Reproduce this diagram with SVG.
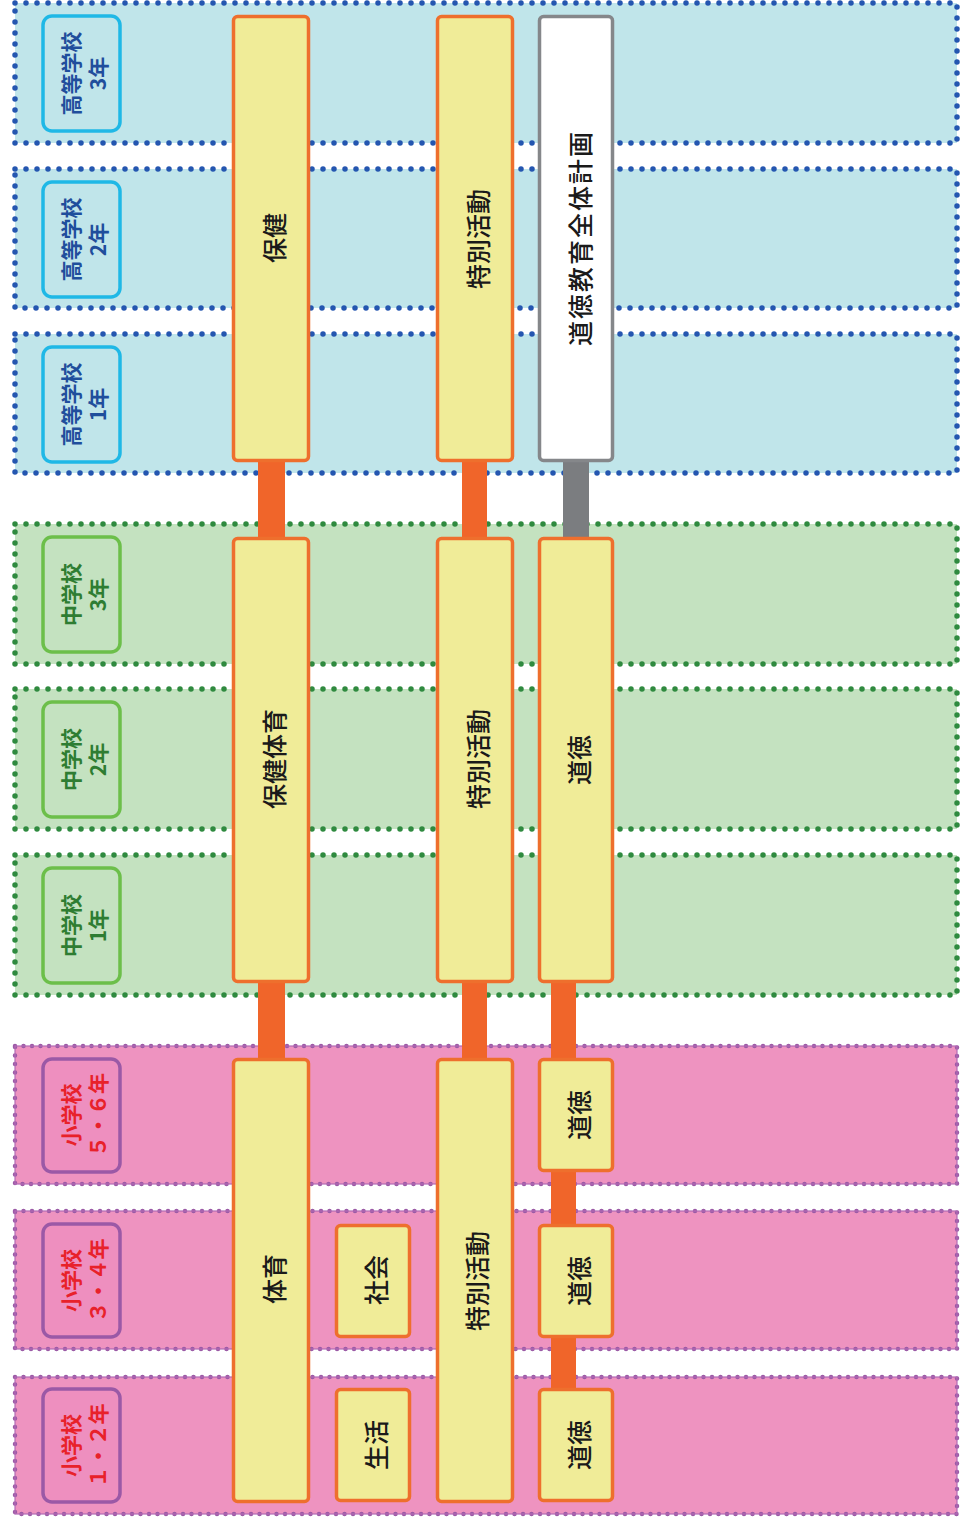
<svg xmlns="http://www.w3.org/2000/svg" width="961" height="1529" viewBox="0 0 961 1529">
<style>
.bandB{fill:#c0e5ea;stroke:#2456b0;stroke-width:5.5;stroke-dasharray:0 11;stroke-linecap:round}
.bandG{fill:#c4e2c0;stroke:#2f8a3f;stroke-width:5.5;stroke-dasharray:0 11;stroke-linecap:round}
.bandP{fill:#ee93c0;stroke:#9b5aa6;stroke-width:4.5;stroke-dasharray:0 8.5;stroke-linecap:round}
.bandPl{fill:none;stroke:#b36ab5;stroke-width:1.2}
.labB{fill:#c0e5ea;stroke:#1fb8e6;stroke-width:3.5}
.labG{fill:#c4e2c0;stroke:#6cbf4a;stroke-width:3.5}
.labP{fill:#ee8fbf;stroke:#9b59a6;stroke-width:3.5}
.lt{font-family:"Noto Sans CJK JP","Noto Sans CJK SC",sans-serif;font-size:21px;font-weight:bold;text-anchor:middle;dominant-baseline:central}
.ltB{fill:#1f4e9c}.ltG{fill:#2e7d32}.ltP{fill:#e8212a}
.col{fill:#f0ec98;stroke:#ee6f2d;stroke-width:3.5}
.plan{fill:#ffffff;stroke:#85878a;stroke-width:3.5}
.ct{font-family:"Noto Sans CJK JP","Noto Sans CJK SC",sans-serif;font-size:25px;font-weight:500;fill:#1a1a1a;text-anchor:middle;dominant-baseline:central}
.co{fill:#f0652a}.cg{fill:#7b7d80}
</style>

<g id="bands">
  <rect class="bandB" x="15" y="3" width="942" height="140"/>
  <rect class="bandB" x="15" y="169" width="942" height="139"/>
  <rect class="bandB" x="15" y="334" width="942" height="139"/>
  <rect class="bandG" x="15" y="524" width="942" height="140"/>
  <rect class="bandG" x="15" y="689" width="942" height="140"/>
  <rect class="bandG" x="15" y="855" width="942" height="140"/>
  <rect class="bandP" x="15" y="1046" width="942" height="138"/>
  <rect class="bandPl" x="15" y="1046" width="942" height="138"/>
  <rect class="bandP" x="15" y="1211" width="942" height="138"/>
  <rect class="bandPl" x="15" y="1211" width="942" height="138"/>
  <rect class="bandP" x="15" y="1377" width="942" height="137"/>
  <rect class="bandPl" x="15" y="1377" width="942" height="137"/>
</g>

<g id="label-high3">
  <rect class="labB" x="43" y="16" width="77" height="115" rx="9"/>
  <g transform="translate(82.5,73.5) rotate(-90)"><text class="lt ltB" x="0" y="-13">高等学校</text><text class="lt ltB" x="0" y="14">3年</text></g>
</g>
<g id="label-high2">
  <rect class="labB" x="43" y="182" width="77" height="115" rx="9"/>
  <g transform="translate(82.5,239.5) rotate(-90)"><text class="lt ltB" x="0" y="-13">高等学校</text><text class="lt ltB" x="0" y="14">2年</text></g>
</g>
<g id="label-high1">
  <rect class="labB" x="43" y="347" width="77" height="115" rx="9"/>
  <g transform="translate(82.5,404.5) rotate(-90)"><text class="lt ltB" x="0" y="-13">高等学校</text><text class="lt ltB" x="0" y="14">1年</text></g>
</g>
<g id="label-mid3">
  <rect class="labG" x="43" y="537" width="77" height="115" rx="9"/>
  <g transform="translate(82.5,594.5) rotate(-90)"><text class="lt ltG" x="0" y="-13">中学校</text><text class="lt ltG" x="0" y="14">3年</text></g>
</g>
<g id="label-mid2">
  <rect class="labG" x="43" y="702" width="77" height="115" rx="9"/>
  <g transform="translate(82.5,759.5) rotate(-90)"><text class="lt ltG" x="0" y="-13">中学校</text><text class="lt ltG" x="0" y="14">2年</text></g>
</g>
<g id="label-mid1">
  <rect class="labG" x="43" y="868" width="77" height="115" rx="9"/>
  <g transform="translate(82.5,925.5) rotate(-90)"><text class="lt ltG" x="0" y="-13">中学校</text><text class="lt ltG" x="0" y="14">1年</text></g>
</g>
<g id="label-ele56">
  <rect class="labP" x="43" y="1059" width="77" height="113" rx="9"/>
  <g transform="translate(82.5,1115) rotate(-90)"><text class="lt ltP" x="0" y="-13">小学校</text><text class="lt ltP" x="0" y="14">５・６年</text></g>
</g>
<g id="label-ele34">
  <rect class="labP" x="43" y="1224" width="77" height="113" rx="9"/>
  <g transform="translate(82.5,1280.5) rotate(-90)"><text class="lt ltP" x="0" y="-13">小学校</text><text class="lt ltP" x="0" y="14">３・４年</text></g>
</g>
<g id="label-ele12">
  <rect class="labP" x="43" y="1389" width="77" height="113" rx="9"/>
  <g transform="translate(82.5,1445.5) rotate(-90)"><text class="lt ltP" x="0" y="-13">小学校</text><text class="lt ltP" x="0" y="14">１・２年</text></g>
</g>

<g id="connectors">
  <rect class="co" x="258" y="455" width="27" height="90"/>
  <rect class="co" x="258" y="975" width="27" height="90"/>
  <rect class="co" x="462" y="455" width="25" height="90"/>
  <rect class="co" x="462" y="975" width="25" height="90"/>
  <rect class="cg" x="563" y="455" width="26" height="90"/>
  <rect class="co" x="551" y="975" width="25" height="90"/>
  <rect class="co" x="551" y="1165" width="25" height="66"/>
  <rect class="co" x="551" y="1331" width="25" height="64"/>
</g>

<g id="hoken">
  <rect class="col" x="233.5" y="16.5" width="75" height="444" rx="4"/>
  <text class="ct" transform="translate(273,238) rotate(-90)">保健</text>
</g>
<g id="tokkatsu-high">
  <rect class="col" x="437.5" y="16.5" width="75" height="444" rx="4"/>
  <text class="ct" transform="translate(477,239) rotate(-90)">特別活動</text>
</g>
<g id="doutoku-plan">
  <rect class="plan" x="539.5" y="16.5" width="73" height="444" rx="4"/>
  <text class="ct" style="letter-spacing:2px" transform="translate(579,238) rotate(-90)">道徳教育全体計画</text>
</g>
<g id="hokentaiiku">
  <rect class="col" x="233.5" y="538.5" width="75" height="443" rx="4"/>
  <text class="ct" transform="translate(273,759) rotate(-90)">保健体育</text>
</g>
<g id="tokkatsu-mid">
  <rect class="col" x="437.5" y="538.5" width="75" height="443" rx="4"/>
  <text class="ct" transform="translate(477,759) rotate(-90)">特別活動</text>
</g>
<g id="doutoku-mid">
  <rect class="col" x="539.5" y="538.5" width="73" height="443" rx="4"/>
  <text class="ct" transform="translate(578,760) rotate(-90)">道徳</text>
</g>
<g id="taiiku">
  <rect class="col" x="233.5" y="1059.5" width="75" height="442" rx="4"/>
  <text class="ct" transform="translate(273,1279) rotate(-90)">体育</text>
</g>
<g id="tokkatsu-ele">
  <rect class="col" x="437.5" y="1059.5" width="75" height="442" rx="4"/>
  <text class="ct" transform="translate(476,1281) rotate(-90)">特別活動</text>
</g>
<g id="shakai">
  <rect class="col" x="336.5" y="1225.5" width="73" height="111" rx="4"/>
  <text class="ct" transform="translate(375,1280) rotate(-90)">社会</text>
</g>
<g id="seikatsu">
  <rect class="col" x="336.5" y="1389.5" width="73" height="111" rx="4"/>
  <text class="ct" transform="translate(375,1445) rotate(-90)">生活</text>
</g>
<g id="doutoku-56">
  <rect class="col" x="539.5" y="1059.5" width="73" height="111" rx="4"/>
  <text class="ct" transform="translate(578,1115) rotate(-90)">道徳</text>
</g>
<g id="doutoku-34">
  <rect class="col" x="539.5" y="1225.5" width="73" height="111" rx="4"/>
  <text class="ct" transform="translate(578,1281) rotate(-90)">道徳</text>
</g>
<g id="doutoku-12">
  <rect class="col" x="539.5" y="1389.5" width="73" height="111" rx="4"/>
  <text class="ct" transform="translate(578,1445) rotate(-90)">道徳</text>
</g>
</svg>
